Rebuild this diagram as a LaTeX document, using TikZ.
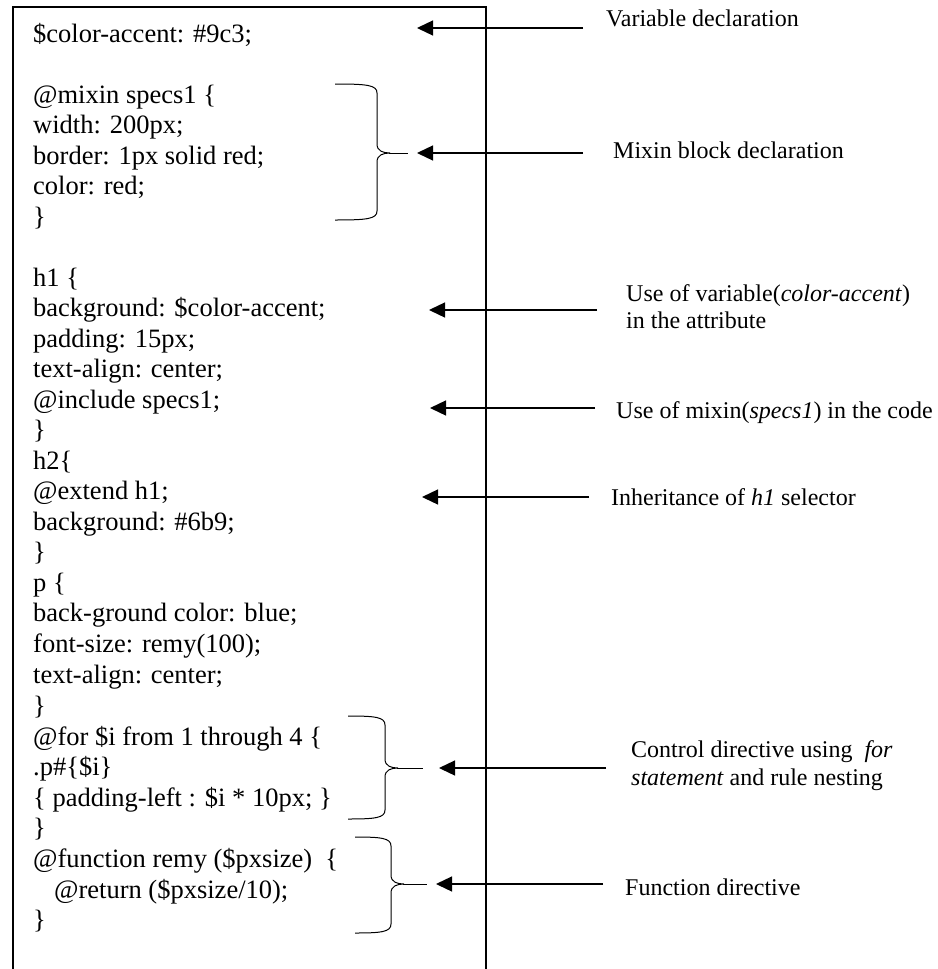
\documentclass[tikz,border=0pt]{standalone}
\usepackage{fontspec}
\setmainfont{Liberation Serif}
\usetikzlibrary{arrows.meta}
\newcommand\wordbrace[6]{% xl, ytop, xv, xtip, ymid, ybot
  \draw[brc] (#1,#2) .. controls (#3-10,#2) and (#3,#2+1) .. (#3,#2+9)
    -- (#3,#5-9) .. controls (#3,#5-2) and (#3+6,#5) .. (#3+13,#5)
    .. controls (#3+6,#5) and (#3,#5+2) .. (#3,#5+9)
    -- (#3,#6-9) .. controls (#3,#6-1) and (#3-10,#6) .. (#1,#6);
  \draw[brc] (#3+12,#5) -- (#4,#5);}
\begin{document}
\begin{tikzpicture}[x=1pt,y=-1pt,
  code/.style={anchor=base west, inner sep=0pt, font=\fontsize{26.5}{30}\selectfont},
  lbl/.style={anchor=base west, inner sep=0pt, font=\fontsize{24}{27}\selectfont},
  pointer/.style={line width=1.3pt, -{Triangle[length=16pt,width=15pt]}},
  brc/.style={line width=1pt},
  frame/.style={line width=1.8pt}]
\useasboundingbox (0,0) rectangle (937,969);
% frame
\draw[frame] (13,980) -- (13,7) -- (486,7) -- (486,980);
% code lines
\node[code] (c0)  at (33,42.0)  {\$color-accent: \#9c3;};
\node[code] (c2)  at (33,103.0) {@mixin specs1 \{};
\node[code] (c3)  at (33,133.5) {width: 200px;};
\node[code] (c4)  at (33,164.0) {border: 1px solid red;};
\node[code] (c5)  at (33,194.5) {color: red;};
\node[code] (c6)  at (33,225.0) {\}};
\node[code] (c8)  at (33,286.0) {h1 \{};
\node[code] (c9)  at (33,316.5) {background: \$color-accent;};
\node[code] (c10) at (33,347.0) {padding: 15px;};
\node[code] (c11) at (33,377.5) {text-align: center;};
\node[code] (c12) at (33,408.0) {@include specs1;};
\node[code] (c13) at (33,438.5) {\}};
\node[code] (c14) at (33,469.0) {h2\{};
\node[code] (c15) at (33,499.5) {@extend h1;};
\node[code] (c16) at (33,530.0) {background: \#6b9;};
\node[code] (c17) at (33,560.5) {\}};
\node[code] (c18) at (33,591.0) {p \{};
\node[code] (c19) at (33,621.5) {back-ground color: blue;};
\node[code] (c20) at (33,652.5) {font-size: remy(100);};
\node[code] (c21) at (33,683.0) {text-align: center;};
\node[code] (c22) at (33,714.0) {\}};
\node[code] (c23) at (33,745.0) {@for \$i from 1 through 4 \{};
\node[code] (c24) at (33,775.5) {.p\#\{\$i\}};
\node[code] (c25) at (33,806.0) {\{ padding-left : \$i * 10px; \}};
\node[code] (c26) at (33,836.5) {\}};
\node[code] (c27) at (33,867.5) {@function remy (\$pxsize)\ \ \{};
\node[code] (c28) at (33,898.0) {\hspace*{21pt}@return (\$pxsize/10);};
\node[code] (c29) at (33,928.5) {\}};
% braces
\wordbrace{335}{84}{377}{408}{153}{220}
\wordbrace{348}{716}{385}{423}{768}{819}
\wordbrace{355}{837}{391}{427}{884}{933}
% labels
\node[lbl] (l1)  at (606,26)  {Variable declaration};
\node[lbl] (l2)  at (613,158) {Mixin block declaration};
\node[lbl] (l3a) at (626,301) {Use of variable(\textit{color-accent})};
\node[lbl] (l3b) at (626,328) {in the attribute};
\node[lbl] (l4)  at (616,418) {Use of mixin(\textit{specs1}) in the code};
\node[lbl] (l5)  at (611,505) {Inheritance of \textit{h1} selector};
\node[lbl] (l6a) at (631,757) {Control directive using\ \ \textit{for}};
\node[lbl] (l6b) at (631,785) {\textit{statement} and rule nesting};
\node[lbl] (l7)  at (625,895) {Function directive};
% arrows
\coordinate (t1) at (583,28);  \coordinate (h1) at (417,28);
\coordinate (t2) at (583,153); \coordinate (h2) at (417,153);
\coordinate (t3) at (597,310); \coordinate (h3) at (429,310);
\coordinate (t4) at (595,408); \coordinate (h4) at (430,408);
\coordinate (t5) at (589,497); \coordinate (h5) at (422,497);
\coordinate (t6) at (606,768); \coordinate (h6) at (439,768);
\coordinate (t7) at (603,884); \coordinate (h7) at (436,884);
\foreach \i in {1,...,7} {\draw[pointer] (t\i) -- (h\i);}
\end{tikzpicture}
\end{document}
